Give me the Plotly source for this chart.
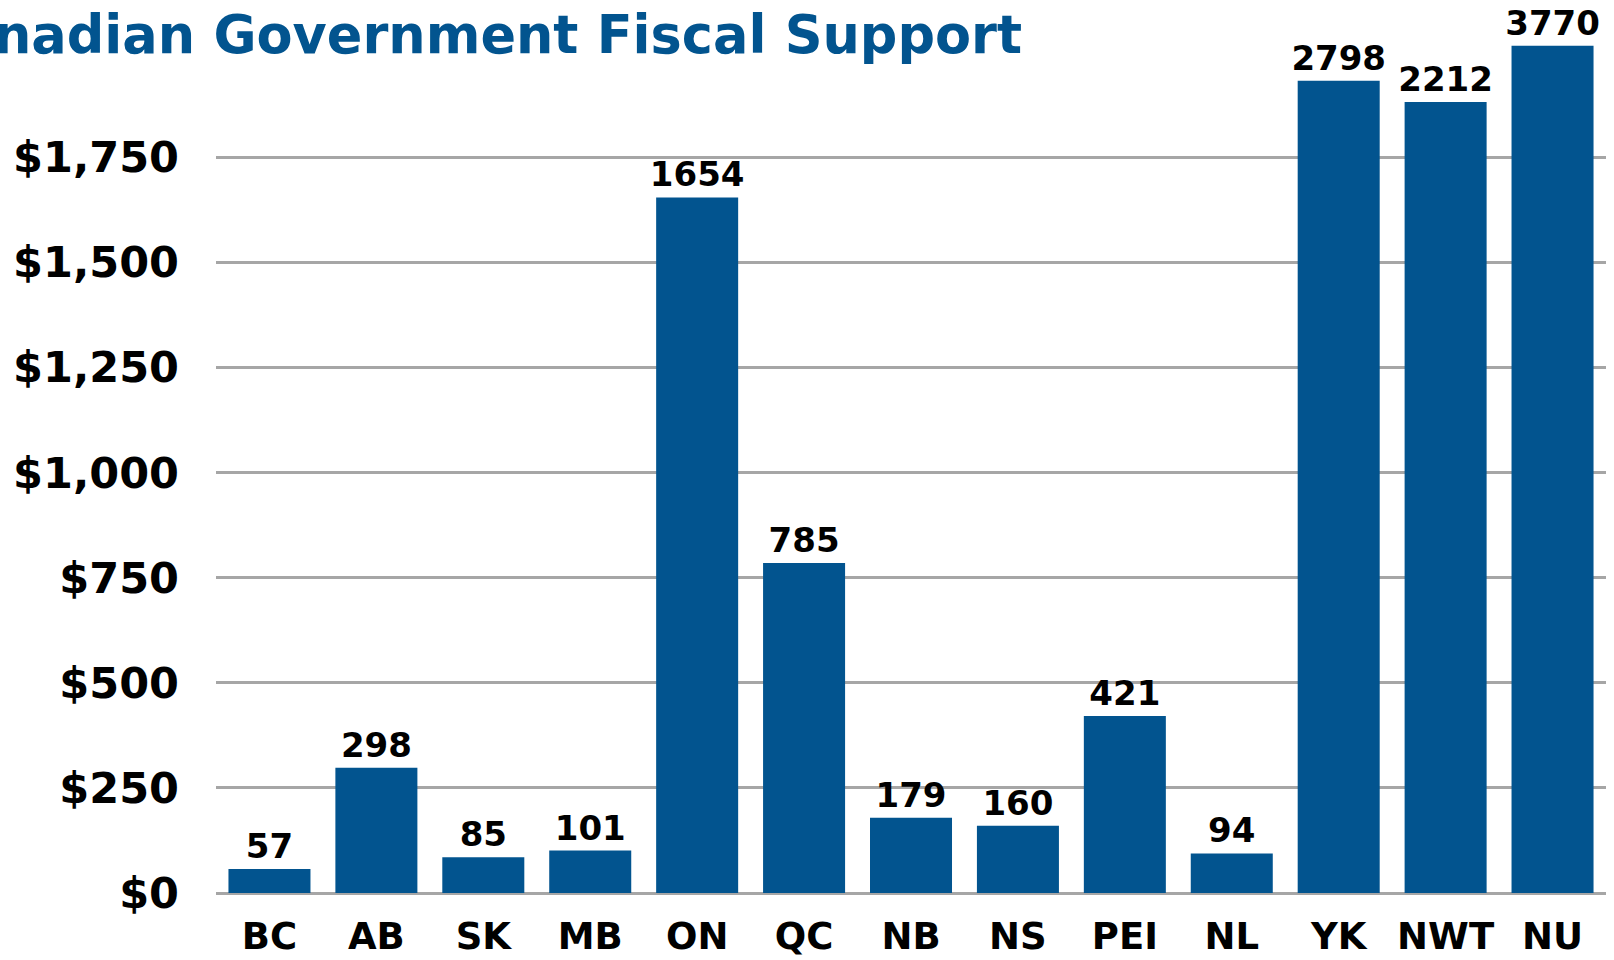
import plotly.graph_objects as go

# Per-capita federal fiscal support by province / territory
regions = ["BC", "AB", "SK", "MB", "ON", "QC", "NB", "NS", "PEI", "NL", "YK", "NWT", "NU"]
support = [57, 298, 85, 101, 1654, 785, 179, 160, 421, 94, 2798, 2212, 3770]
y_ticks = [0, 250, 500, 750, 1000, 1250, 1500, 1750]
y_tick_labels = ["$0", "$250", "$500", "$750", "$1,000", "$1,250", "$1,500", "$1,750"]
title_text = "Canadian Government Fiscal Support"

# Broken value axis: a full-scale lower panel and a compressed upper panel
BREAK = 1850
UPPER_MAX = 4822

BLUE = "#02548f"
GRID = "#a6a6a6"
FONT = "DejaVu Sans"

W, H = 1614, 960
M_L, M_R, M_T, M_B = 216, 8, 8, 67
plot_h = H - M_T - M_B
split = 778 / plot_h

lower_text = [str(v) if v <= BREAK else "" for v in support]
upper_vals = [v if v > BREAK else None for v in support]
upper_text = [str(v) if v > BREAK else "" for v in support]

label_font = dict(family=FONT, size=34, color="black", weight="bold")

fig = go.Figure()
fig.add_trace(go.Bar(
    x=regions, y=support, xaxis="x", yaxis="y",
    marker=dict(color=BLUE, line=dict(width=0)),
    text=lower_text, textposition="outside", textfont=label_font,
    constraintext="none", cliponaxis=True, showlegend=False,
))
fig.add_trace(go.Bar(
    x=regions, y=upper_vals, xaxis="x", yaxis="y2",
    marker=dict(color=BLUE, line=dict(width=0)),
    text=upper_text, textposition="outside", textfont=label_font,
    constraintext="none", cliponaxis=False, showlegend=False,
))

fig.update_layout(
    width=W, height=H,
    margin=dict(l=M_L, r=M_R, t=M_T, b=M_B, pad=0, autoexpand=False),
    paper_bgcolor="white", plot_bgcolor="white",
    bargap=0.233,
    xaxis=dict(
        domain=[0, 1], anchor="y", type="category", automargin=False,
        showgrid=False, showline=False, zeroline=False, ticks="",
        tickfont=dict(family=FONT, size=37, color="black", weight="bold"),
        ticklabelstandoff=18,
    ),
    yaxis=dict(
        domain=[0, split], anchor="x", range=[0, BREAK], automargin=False,
        tickmode="array", tickvals=y_ticks, ticktext=y_tick_labels,
        showgrid=True, gridcolor=GRID, gridwidth=2.5,
        zeroline=True, zerolinecolor=GRID, zerolinewidth=2.5,
        showline=False, ticks="",
        tickfont=dict(family=FONT, size=43, color="black", weight="bold"),
        ticklabelstandoff=36,
    ),
    yaxis2=dict(
        domain=[split, 1], anchor="x", range=[BREAK, UPPER_MAX], automargin=False,
        showgrid=False, zeroline=False, showline=False,
        showticklabels=False, ticks="",
    ),
    annotations=[dict(
        text=title_text, xref="paper", yref="paper",
        x=(1024 - M_L) / (W - M_L - M_R), y=(H - M_B - 34) / plot_h,
        xanchor="right", yanchor="middle", showarrow=False,
        font=dict(family=FONT, size=52.5, color=BLUE, weight="bold"),
    )],
)

fig.write_html("out.html")
